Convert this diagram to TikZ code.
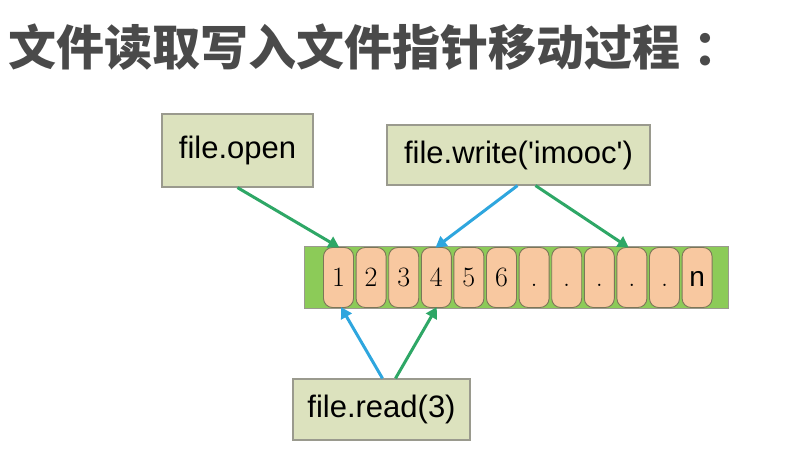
\documentclass[tikz,border=0pt]{standalone}
\usepackage{fontspec}
\newfontfamily\cjk{Noto Sans CJK SC}
\newfontfamily\arialf{Liberation Sans}
\usetikzlibrary{arrows.meta,calc}
\definecolor{titlegray}{HTML}{4A4A4A}
\definecolor{boxfill}{HTML}{DCE2BE}
\definecolor{boxline}{HTML}{9A9A8E}
\definecolor{barfill}{HTML}{8CCB58}
\definecolor{cellfill}{HTML}{F8C8A0}
\definecolor{cellline}{HTML}{7C7658}
\definecolor{arrgreen}{HTML}{2EA766}
\definecolor{arrblue}{HTML}{2EA6DE}
\tikzset{
  opbox/.style={draw=boxline, line width=1.2pt, fill=boxfill, inner sep=0pt,
    font=\arialf\fontsize{31}{31}\selectfont},
  cellbox/.style={draw=cellline, line width=0.9pt, fill=cellfill, rounded corners=9pt,
    minimum width=30pt, minimum height=60pt, inner sep=0pt, text height=18pt, text depth=0pt,
    font=\fontsize{28}{28}\selectfont},
  ptr/.style={line width=3pt, -{Triangle[length=11pt,width=12pt]}, shorten >=-1pt},
}
\begin{document}
\begin{tikzpicture}[x=1pt,y=-1pt]
\useasboundingbox (0,0) rectangle (788,476);
\node[anchor=west, inner sep=0pt, text=titlegray, font=\cjk\bfseries\fontsize{48}{48}\selectfont] (title) at (8,47) {文件读取写入文件指针移动过程\hspace{13pt}：};
% bar
\node[draw=boxline, line width=1pt, fill=barfill, minimum width=424pt, minimum height=61pt, inner sep=0pt] (bar) at (516,277.5) {};
\foreach \i/\t/\fnt in {1/1/,2/2/,3/3/,4/4/,5/5/,6/6/,7/./,8/./,9/./,10/./,11/./,12/n/\arialf} {
  \node[cellbox] (c\i) at ({338.5+(\i-1)*32.6},277.5) {\fnt\t};
}
% boxes
\node[opbox, minimum width=151pt, minimum height=73pt] (open) at (237.5,150.5) {file.open};
\node[opbox, minimum width=263pt, minimum height=60pt] (write) at (518.5,155) {file.write('imooc')};
\node[opbox, minimum width=177pt, minimum height=61pt] (read) at (381.5,409.5) {file.read(3)};
% arrows
\draw[ptr, arrgreen] (open.south) -- (c1.north);
\draw[ptr, arrblue] ($(write.south)+(-1,0)$) -- (c4.north);
\draw[ptr, arrgreen] ($(write.south)+(17,0)$) -- ($(c10.north)+(-4,0)$);
\draw[ptr, arrblue] ($(read.north)+(1,0)$) -- ($(c1.south)+(3,0)$);
\draw[ptr, arrgreen] ($(read.north)+(14,0)$) -- (c4.south);
\end{tikzpicture}
\end{document}
